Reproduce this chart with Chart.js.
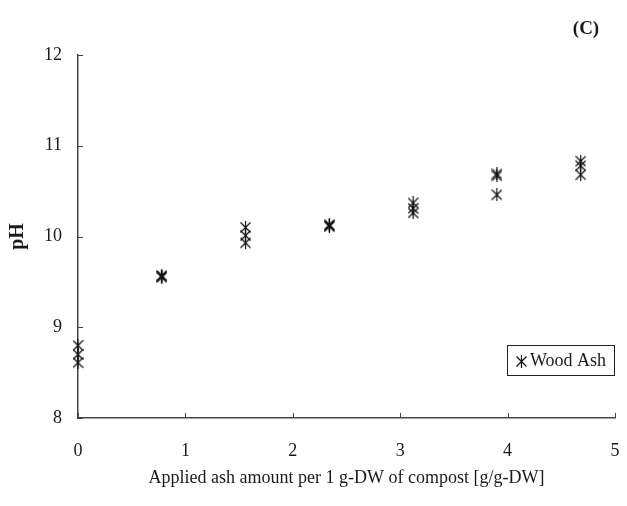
<!DOCTYPE html>
<html>
<head>
<meta charset="utf-8">
<script src="https://cdn.jsdelivr.net/npm/chart.js@4.4.1/dist/chart.umd.min.js"></script>
<style>
  html, body { margin: 0; padding: 0; background: #fff; }
  #wrap { width: 627px; height: 506px; }
</style>
</head>
<body>
<div id="wrap"><canvas id="c" width="627" height="506"></canvas></div>
<script>
// Applied wood-ash dose (g per g-DW compost) and measured pH, three replicates
const ashDose = [0, 0.78, 1.56, 2.34, 3.12, 3.90, 4.68];
const phRep1 = [8.80, 9.57, 10.10, 10.13, 10.37, 10.69, 10.83];
const phRep2 = [8.70, 9.56, 10.01, 10.12, 10.31, 10.67, 10.78];
const phRep3 = [8.61, 9.55, 9.93, 10.11, 10.26, 10.46, 10.68];
const seriesLabel = 'Wood Ash';
const xTicks = [0, 1, 2, 3, 4, 5];
const yTicks = [8, 9, 10, 11, 12];

const points = [];
[phRep1, phRep2, phRep3].forEach(rep => {
  rep.forEach((v, i) => points.push({ x: ashDose[i], y: v }));
});

const FONT = "'Liberation Serif', 'Times New Roman', serif";
const INK = '#1a1a1a';
const AXIS = '#444';

// Asterisk marker: an X crossed by a vertical stroke
function makeMarker() {
  const m = document.createElement('canvas');
  m.width = 11; m.height = 13;
  const g = m.getContext('2d');
  g.strokeStyle = '#111';
  g.lineWidth = 1.2;
  g.beginPath();
  g.moveTo(0.5, 1.5); g.lineTo(10.5, 11.5);
  g.moveTo(10.5, 1.5); g.lineTo(0.5, 11.5);
  g.moveTo(5.5, 0); g.lineTo(5.5, 13);
  g.stroke();
  return m;
}
const marker = makeMarker();

// Inward tick marks, the legend box and the panel letter
const decor = {
  id: 'decor',
  afterDraw(chart) {
    const ctx = chart.ctx;
    const xs = chart.scales.x, ys = chart.scales.y;
    const area = chart.chartArea;
    ctx.save();
    ctx.strokeStyle = AXIS;
    ctx.lineWidth = 1;
    ctx.beginPath();
    xTicks.forEach(t => {
      const px = Math.round(xs.getPixelForValue(t)) + 0.5;
      ctx.moveTo(px, area.bottom); ctx.lineTo(px, area.bottom - 5);
    });
    yTicks.forEach(t => {
      const py = Math.round(ys.getPixelForValue(t)) + 0.5;
      ctx.moveTo(area.left, py); ctx.lineTo(area.left + 5, py);
    });
    ctx.stroke();

    // legend
    const lx = 507, ly = 345, lw = 107, lh = 30;
    ctx.strokeStyle = '#222';
    ctx.strokeRect(lx + 0.5, ly + 0.5, lw, lh);
    ctx.drawImage(marker, lx + 9, ly + 10);
    ctx.fillStyle = INK;
    ctx.font = '18px ' + FONT;
    ctx.textBaseline = 'middle';
    ctx.textAlign = 'left';
    ctx.fillText(chart.data.datasets[0].label, lx + 23, ly + 16);

    // panel letter
    ctx.font = 'bold 19px ' + FONT;
    ctx.textAlign = 'center';
    ctx.fillText('(C)', 586, 29);
    ctx.restore();
  }
};

new Chart(document.getElementById('c'), {
  type: 'scatter',
  data: {
    datasets: [{
      label: seriesLabel,
      data: points,
      pointStyle: marker,
      pointRadius: 6,
      pointHoverRadius: 6,
      clip: false
    }]
  },
  options: {
    responsive: false,
    animation: false,
    events: [],
    layout: { padding: { top: 55, right: 12, left: 0, bottom: 0 } },
    plugins: { legend: { display: false }, tooltip: { enabled: false } },
    scales: {
      x: {
        type: 'linear',
        min: 0, max: 5,
        afterFit(s) { s.height = 88; s.paddingLeft = 0; s.paddingRight = 0; },
        afterBuildTicks(s) { s.ticks = xTicks.map(v => ({ value: v })); },
        grid: { display: true, drawOnChartArea: false, drawTicks: false },
        border: { color: AXIS, width: 1.5 },
        ticks: { color: INK, font: { family: FONT, size: 18 }, padding: 22 },
        title: {
          display: true,
          text: 'Applied ash amount per 1 g-DW of compost [g/g-DW]',
          color: INK,
          font: { family: FONT, size: 18 },
          padding: { top: 2, bottom: 17 }
        }
      },
      y: {
        type: 'linear',
        min: 8, max: 12,
        afterFit(s) { s.width = 78; s.paddingTop = 0; s.paddingBottom = 0; },
        afterBuildTicks(s) { s.ticks = yTicks.map(v => ({ value: v })); },
        grid: { display: true, drawOnChartArea: false, drawTicks: false },
        border: { color: AXIS, width: 1.5 },
        ticks: { color: INK, font: { family: FONT, size: 18 }, padding: 16 },
        title: {
          display: true,
          text: 'pH',
          color: INK,
          font: { family: FONT, size: 20, weight: 'bold' },
          padding: { top: 6, bottom: 10 }
        }
      }
    }
  },
  plugins: [decor]
});
</script>
</body>
</html>
